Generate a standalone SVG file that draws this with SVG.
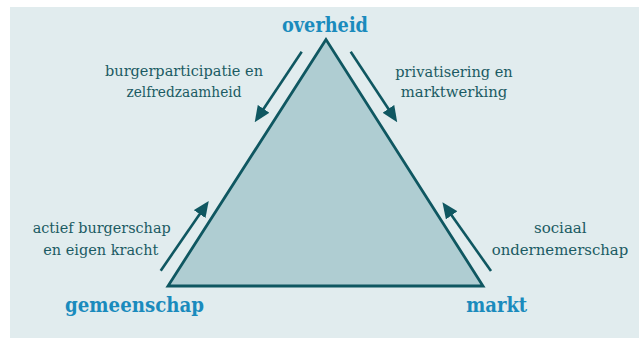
<svg xmlns="http://www.w3.org/2000/svg" width="639" height="338" viewBox="0 0 639 338">
<defs>
<style>
.lbl{font-family:"DejaVu Serif","Liberation Serif",serif;font-size:15.5px;fill:#1b5b63;text-anchor:middle}
.hd{font-family:"DejaVu Serif","Liberation Serif",serif;font-size:20.5px;font-weight:bold;fill:#1a8bbd;text-anchor:middle}
.arr{stroke:#0f5761;stroke-width:2.6;fill:none}
</style>
<marker id="ah" markerUnits="userSpaceOnUse" markerWidth="16" markerHeight="14" viewBox="0 0 16 14" refX="2" refY="7" orient="auto">
<path d="M0,0 L16,7 L0,14 z" fill="#0f5761"/>
</marker>
</defs>
<rect x="0" y="0" width="639" height="338" fill="#ffffff"/>
<rect x="10" y="7" width="629" height="331" fill="#e1ecee"/>
<g id="triangle">
<polygon points="326,39.5 168,286 483,286" fill="#afcdd2" stroke="#0f5761" stroke-width="2.8" stroke-linejoin="miter"/>
</g>
<g id="connectors">
<line class="arr" x1="301.7" y1="51.7" x2="262.5" y2="110.5" marker-end="url(#ah)"/>
<line class="arr" x1="350.7" y1="51.7" x2="389.5" y2="110.5" marker-end="url(#ah)"/>
<line class="arr" x1="160.7" y1="270.7" x2="200.8" y2="212.5" marker-end="url(#ah)"/>
<line class="arr" x1="491" y1="271" x2="450.5" y2="213.7" marker-end="url(#ah)"/>
</g>
<g id="overheid"><text class="hd" x="325" y="31.5" textLength="86" lengthAdjust="spacingAndGlyphs">overheid</text></g>
<g id="gemeenschap"><text class="hd" x="134.5" y="311.5" textLength="139" lengthAdjust="spacingAndGlyphs">gemeenschap</text></g>
<g id="markt"><text class="hd" x="496.7" y="311.5" textLength="61" lengthAdjust="spacingAndGlyphs">markt</text></g>
<g id="label-tl">
<text class="lbl" x="184" y="75.5" textLength="158" lengthAdjust="spacingAndGlyphs">burgerparticipatie en</text>
<text class="lbl" x="184" y="96.5" textLength="115" lengthAdjust="spacingAndGlyphs">zelfredzaamheid</text>
</g>
<g id="label-tr">
<text class="lbl" x="454" y="76.5" textLength="117.5" lengthAdjust="spacingAndGlyphs">privatisering en</text>
<text class="lbl" x="454" y="96.7" textLength="106.5" lengthAdjust="spacingAndGlyphs">marktwerking</text>
</g>
<g id="label-bl">
<text class="lbl" x="101.7" y="233.3" textLength="138" lengthAdjust="spacingAndGlyphs">actief burgerschap</text>
<text class="lbl" x="100.8" y="254.5" textLength="115" lengthAdjust="spacingAndGlyphs">en eigen kracht</text>
</g>
<g id="label-br">
<text class="lbl" x="560.3" y="233.3" textLength="52.7" lengthAdjust="spacingAndGlyphs">sociaal</text>
<text class="lbl" x="560" y="255" textLength="136.6" lengthAdjust="spacingAndGlyphs">ondernemerschap</text>
</g>
</svg>
